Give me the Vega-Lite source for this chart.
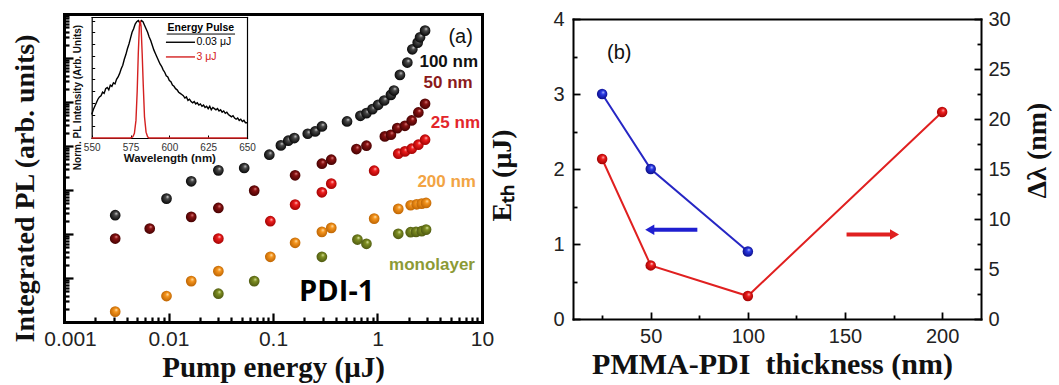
{
  "$schema": "https://vega.github.io/schema/vega-lite/v6.json",
  "width": 1059,
  "height": 385,
  "autosize": {"type": "none"},
  "padding": 0,
  "background": "white",
  "config": {
    "view": {"stroke": null},
    "axis": {"grid": false, "domainColor": "#000000", "tickColor": "#000000", "labelColor": "#222222", "labelFont": "Liberation Sans", "titleFont": "Liberation Serif", "titleFontWeight": "bold", "titleColor": "#111111", "domainCap": "square", "labelOverlap": false, "labelFlush": false, "labelBound": false}
  },
  "datasets": {
    "pl": [
      {"s": "100 nm", "e": 0.00309, "pl": 267}, {"s": "100 nm", "e": 0.00957, "pl": 638}, {"s": "100 nm", "e": 0.0165, "pl": 1576}, {"s": "100 nm", "e": 0.03, "pl": 2798}, {"s": "100 nm", "e": 0.053, "pl": 3161}, {"s": "100 nm", "e": 0.0922, "pl": 6341}, {"s": "100 nm", "e": 0.119, "pl": 10323}, {"s": "100 nm", "e": 0.14, "pl": 13174}, {"s": "100 nm", "e": 0.16, "pl": 15144}, {"s": "100 nm", "e": 0.215, "pl": 18980}, {"s": "100 nm", "e": 0.253, "pl": 21448}, {"s": "100 nm", "e": 0.294, "pl": 27848}, {"s": "100 nm", "e": 0.511, "pl": 36152}, {"s": "100 nm", "e": 0.686, "pl": 48600}, {"s": "100 nm", "e": 0.784, "pl": 55856}, {"s": "100 nm", "e": 0.895, "pl": 68834}, {"s": "100 nm", "e": 1.015, "pl": 86298}, {"s": "100 nm", "e": 1.159, "pl": 108217}, {"s": "100 nm", "e": 1.344, "pl": 145480}, {"s": "100 nm", "e": 1.436, "pl": 182410}, {"s": "100 nm", "e": 1.639, "pl": 413380}, {"s": "100 nm", "e": 1.929, "pl": 787040}, {"s": "100 nm", "e": 2.154, "pl": 1578700}, {"s": "100 nm", "e": 2.424, "pl": 2236700}, {"s": "100 nm", "e": 2.554, "pl": 2954600}, {"s": "100 nm", "e": 2.852, "pl": 4183000},
      {"s": "50 nm", "e": 0.00309, "pl": 78.9}, {"s": "50 nm", "e": 0.00661, "pl": 133}, {"s": "50 nm", "e": 0.0165, "pl": 245}, {"s": "50 nm", "e": 0.03, "pl": 391}, {"s": "50 nm", "e": 0.0661, "pl": 968}, {"s": "50 nm", "e": 0.1627, "pl": 2156}, {"s": "50 nm", "e": 0.2936, "pl": 3964}, {"s": "50 nm", "e": 0.3611, "pl": 4884}, {"s": "50 nm", "e": 0.6284, "pl": 8525}, {"s": "50 nm", "e": 0.7838, "pl": 10145}, {"s": "50 nm", "e": 1.176, "pl": 16515}, {"s": "50 nm", "e": 1.344, "pl": 18015}, {"s": "50 nm", "e": 1.546, "pl": 25520}, {"s": "50 nm", "e": 1.831, "pl": 28830}, {"s": "50 nm", "e": 2.123, "pl": 38090}, {"s": "50 nm", "e": 2.46, "pl": 57840}, {"s": "50 nm", "e": 2.852, "pl": 90920},
      {"s": "25 nm", "e": 0.03, "pl": 78.9}, {"s": "25 nm", "e": 0.0943, "pl": 195}, {"s": "25 nm", "e": 0.1627, "pl": 466}, {"s": "25 nm", "e": 0.2936, "pl": 887}, {"s": "25 nm", "e": 0.3611, "pl": 1395}, {"s": "25 nm", "e": 0.9288, "pl": 2750}, {"s": "25 nm", "e": 1.58, "pl": 6682}, {"s": "25 nm", "e": 1.831, "pl": 7548}, {"s": "25 nm", "e": 2.123, "pl": 8676}, {"s": "25 nm", "e": 2.46, "pl": 10690}, {"s": "25 nm", "e": 2.852, "pl": 13880},
      {"s": "200 nm", "e": 0.00309, "pl": 1.72}, {"s": "200 nm", "e": 0.00957, "pl": 3.89}, {"s": "200 nm", "e": 0.0165, "pl": 8.51}, {"s": "200 nm", "e": 0.03, "pl": 14.3}, {"s": "200 nm", "e": 0.0943, "pl": 30.3}, {"s": "200 nm", "e": 0.1627, "pl": 63}, {"s": "200 nm", "e": 0.2936, "pl": 112}, {"s": "200 nm", "e": 0.3611, "pl": 138}, {"s": "200 nm", "e": 0.9288, "pl": 224}, {"s": "200 nm", "e": 1.58, "pl": 372}, {"s": "200 nm", "e": 2.076, "pl": 450}, {"s": "200 nm", "e": 2.371, "pl": 474}, {"s": "200 nm", "e": 2.65, "pl": 491}, {"s": "200 nm", "e": 2.916, "pl": 508},
      {"s": "monolayer", "e": 0.03, "pl": 4.39}, {"s": "monolayer", "e": 0.0661, "pl": 8.51}, {"s": "monolayer", "e": 0.2936, "pl": 30.3}, {"s": "monolayer", "e": 0.6424, "pl": 74.9}, {"s": "monolayer", "e": 0.7838, "pl": 59.8}, {"s": "monolayer", "e": 1.58, "pl": 101}, {"s": "monolayer", "e": 2.076, "pl": 110}, {"s": "monolayer", "e": 2.337, "pl": 112}, {"s": "monolayer", "e": 2.65, "pl": 116}, {"s": "monolayer", "e": 2.916, "pl": 126}
    ],
    "labels": [
      {"s": "100 nm", "e": 9.16, "pl": 824000},
      {"s": "50 nm", "e": 8.15, "pl": 266000},
      {"s": "25 nm", "e": 9.57, "pl": 33900},
      {"s": "200 nm", "e": 8.76, "pl": 1545},
      {"s": "monolayer", "e": 8.57, "pl": 19.7}
    ],
    "spec": [
      {"p": "0.03 μJ", "w": 550, "i": 0.20}, {"p": "0.03 μJ", "w": 551, "i": 0.24}, {"p": "0.03 μJ", "w": 552, "i": 0.27}, {"p": "0.03 μJ", "w": 553, "i": 0.30}, {"p": "0.03 μJ", "w": 554, "i": 0.33}, {"p": "0.03 μJ", "w": 555, "i": 0.35}, {"p": "0.03 μJ", "w": 556, "i": 0.36}, {"p": "0.03 μJ", "w": 557, "i": 0.39}, {"p": "0.03 μJ", "w": 558, "i": 0.38}, {"p": "0.03 μJ", "w": 559, "i": 0.42}, {"p": "0.03 μJ", "w": 560, "i": 0.43}, {"p": "0.03 μJ", "w": 561, "i": 0.41}, {"p": "0.03 μJ", "w": 562, "i": 0.45}, {"p": "0.03 μJ", "w": 563, "i": 0.44}, {"p": "0.03 μJ", "w": 564, "i": 0.47}, {"p": "0.03 μJ", "w": 565, "i": 0.46}, {"p": "0.03 μJ", "w": 566, "i": 0.50}, {"p": "0.03 μJ", "w": 567, "i": 0.52}, {"p": "0.03 μJ", "w": 568, "i": 0.55}, {"p": "0.03 μJ", "w": 569, "i": 0.59}, {"p": "0.03 μJ", "w": 570, "i": 0.62}, {"p": "0.03 μJ", "w": 571, "i": 0.67}, {"p": "0.03 μJ", "w": 572, "i": 0.71}, {"p": "0.03 μJ", "w": 573, "i": 0.76}, {"p": "0.03 μJ", "w": 574, "i": 0.80}, {"p": "0.03 μJ", "w": 575, "i": 0.85}, {"p": "0.03 μJ", "w": 576, "i": 0.90}, {"p": "0.03 μJ", "w": 577, "i": 0.93}, {"p": "0.03 μJ", "w": 578, "i": 0.97}, {"p": "0.03 μJ", "w": 579, "i": 0.99}, {"p": "0.03 μJ", "w": 580, "i": 1.00}, {"p": "0.03 μJ", "w": 581, "i": 0.98}, {"p": "0.03 μJ", "w": 582, "i": 1.00}, {"p": "0.03 μJ", "w": 583, "i": 0.99}, {"p": "0.03 μJ", "w": 584, "i": 0.96}, {"p": "0.03 μJ", "w": 585, "i": 0.93}, {"p": "0.03 μJ", "w": 586, "i": 0.90}, {"p": "0.03 μJ", "w": 587, "i": 0.86}, {"p": "0.03 μJ", "w": 588, "i": 0.83}, {"p": "0.03 μJ", "w": 589, "i": 0.79}, {"p": "0.03 μJ", "w": 590, "i": 0.75}, {"p": "0.03 μJ", "w": 591, "i": 0.72}, {"p": "0.03 μJ", "w": 592, "i": 0.69}, {"p": "0.03 μJ", "w": 593, "i": 0.66}, {"p": "0.03 μJ", "w": 594, "i": 0.63}, {"p": "0.03 μJ", "w": 595, "i": 0.61}, {"p": "0.03 μJ", "w": 596, "i": 0.58}, {"p": "0.03 μJ", "w": 597, "i": 0.56}, {"p": "0.03 μJ", "w": 598, "i": 0.53}, {"p": "0.03 μJ", "w": 599, "i": 0.52}, {"p": "0.03 μJ", "w": 600, "i": 0.49}, {"p": "0.03 μJ", "w": 601, "i": 0.48}, {"p": "0.03 μJ", "w": 602, "i": 0.45}, {"p": "0.03 μJ", "w": 603, "i": 0.44}, {"p": "0.03 μJ", "w": 604, "i": 0.42}, {"p": "0.03 μJ", "w": 605, "i": 0.41}, {"p": "0.03 μJ", "w": 606, "i": 0.39}, {"p": "0.03 μJ", "w": 607, "i": 0.38}, {"p": "0.03 μJ", "w": 608, "i": 0.37}, {"p": "0.03 μJ", "w": 609, "i": 0.36}, {"p": "0.03 μJ", "w": 610, "i": 0.34}, {"p": "0.03 μJ", "w": 611, "i": 0.35}, {"p": "0.03 μJ", "w": 612, "i": 0.32}, {"p": "0.03 μJ", "w": 613, "i": 0.33}, {"p": "0.03 μJ", "w": 614, "i": 0.31}, {"p": "0.03 μJ", "w": 615, "i": 0.30}, {"p": "0.03 μJ", "w": 616, "i": 0.31}, {"p": "0.03 μJ", "w": 617, "i": 0.29}, {"p": "0.03 μJ", "w": 618, "i": 0.30}, {"p": "0.03 μJ", "w": 619, "i": 0.28}, {"p": "0.03 μJ", "w": 620, "i": 0.29}, {"p": "0.03 μJ", "w": 621, "i": 0.27}, {"p": "0.03 μJ", "w": 622, "i": 0.28}, {"p": "0.03 μJ", "w": 623, "i": 0.26}, {"p": "0.03 μJ", "w": 624, "i": 0.27}, {"p": "0.03 μJ", "w": 625, "i": 0.25}, {"p": "0.03 μJ", "w": 626, "i": 0.27}, {"p": "0.03 μJ", "w": 627, "i": 0.24}, {"p": "0.03 μJ", "w": 628, "i": 0.26}, {"p": "0.03 μJ", "w": 629, "i": 0.25}, {"p": "0.03 μJ", "w": 630, "i": 0.24}, {"p": "0.03 μJ", "w": 631, "i": 0.25}, {"p": "0.03 μJ", "w": 632, "i": 0.23}, {"p": "0.03 μJ", "w": 633, "i": 0.24}, {"p": "0.03 μJ", "w": 634, "i": 0.22}, {"p": "0.03 μJ", "w": 635, "i": 0.23}, {"p": "0.03 μJ", "w": 636, "i": 0.21}, {"p": "0.03 μJ", "w": 637, "i": 0.22}, {"p": "0.03 μJ", "w": 638, "i": 0.20}, {"p": "0.03 μJ", "w": 639, "i": 0.19}, {"p": "0.03 μJ", "w": 640, "i": 0.18}, {"p": "0.03 μJ", "w": 641, "i": 0.19}, {"p": "0.03 μJ", "w": 642, "i": 0.17}, {"p": "0.03 μJ", "w": 643, "i": 0.16}, {"p": "0.03 μJ", "w": 644, "i": 0.17}, {"p": "0.03 μJ", "w": 645, "i": 0.15}, {"p": "0.03 μJ", "w": 646, "i": 0.16}, {"p": "0.03 μJ", "w": 647, "i": 0.14}, {"p": "0.03 μJ", "w": 648, "i": 0.15}, {"p": "0.03 μJ", "w": 649, "i": 0.13}, {"p": "0.03 μJ", "w": 650, "i": 0.13},
      {"p": "3 μJ", "w": 550, "i": 0.0}, {"p": "3 μJ", "w": 575, "i": 0.0}, {"p": "3 μJ", "w": 576.5, "i": 0.01}, {"p": "3 μJ", "w": 577.5, "i": 0.04}, {"p": "3 μJ", "w": 578.5, "i": 0.15}, {"p": "3 μJ", "w": 579.3, "i": 0.4}, {"p": "3 μJ", "w": 580, "i": 0.72}, {"p": "3 μJ", "w": 580.7, "i": 0.95}, {"p": "3 μJ", "w": 581.2, "i": 1.0}, {"p": "3 μJ", "w": 581.8, "i": 0.95}, {"p": "3 μJ", "w": 582.5, "i": 0.72}, {"p": "3 μJ", "w": 583.2, "i": 0.45}, {"p": "3 μJ", "w": 584, "i": 0.18}, {"p": "3 μJ", "w": 585, "i": 0.05}, {"p": "3 μJ", "w": 586, "i": 0.01}, {"p": "3 μJ", "w": 587, "i": 0.0}, {"p": "3 μJ", "w": 650, "i": 0.0}
    ],
    "legend": [
      {"p": "0.03 μJ", "w": 597.8, "w2": 616.5, "i": 0.815, "wt": 617.5},
      {"p": "3 μJ", "w": 597.8, "w2": 616.5, "i": 0.69, "wt": 617.5}
    ],
    "thk": [
      {"m": "Eth", "t": 25, "v": 3.0}, {"m": "Eth", "t": 50, "v": 2.0}, {"m": "Eth", "t": 100, "v": 0.9},
      {"m": "dl", "t": 25, "v": 16.0}, {"m": "dl", "t": 50, "v": 5.36}, {"m": "dl", "t": 100, "v": 2.3}, {"m": "dl", "t": 200, "v": 20.7}
    ]
  },
  "resolve": {
    "scale": {"x": "independent", "y": "independent", "color": "independent"},
    "axis": {"x": "independent", "y": "independent"}
  },
  "layer": [
    {
      "data": {"name": "pl"},
      "transform": [{"filter": "datum.s == '100 nm'"}],
      "mark": {"type": "point", "filled": true, "size": 115, "opacity": 1, "fill": {"gradient": "radial", "x1": 0.62, "y1": 0.32, "r1": 0, "x2": 0.5, "y2": 0.5, "r2": 0.55, "stops": [{"offset": 0, "color": "#dddddd"}, {"offset": 0.3, "color": "#4a4a4a"}, {"offset": 1, "color": "#000000"}]}},
      "encoding": {
        "x": {"field": "e", "type": "quantitative", "scale": {"type": "log", "domain": [0.001, 10], "range": [64, 482], "nice": false},
          "axis": {"orient": "bottom", "offset": -63, "values": [0.001, 0.002, 0.003, 0.004, 0.005, 0.006, 0.007, 0.008, 0.009, 0.01, 0.02, 0.03, 0.04, 0.05, 0.06, 0.07, 0.08, 0.09, 0.1, 0.2, 0.3, 0.4, 0.5, 0.6, 0.7, 0.8, 0.9, 1, 2, 3, 4, 5, 6, 7, 8, 9, 10],
            "labelExpr": "indexof([0.001, 0.01, 0.1, 1, 10], datum.value) >= 0 ? format(datum.value, '~g') : ''",
            "tickSize": {"condition": {"test": "indexof([0.001, 0.01, 0.1, 1, 10], datum.value) >= 0", "value": -9}, "value": -5},
            "labelOffset": {"condition": {"test": "datum.value == 0.001", "value": 6}, "value": 0},
            "tickWidth": 2.2, "domainWidth": 3, "labelFontSize": 21, "labelPadding": 15,
            "title": "Pump energy (μJ)", "titleFontSize": 29, "titlePadding": 0}},
        "y": {"field": "pl", "type": "quantitative", "scale": {"type": "log", "domain": [1, 10000000], "range": [322, 14], "nice": false},
          "axis": {"orient": "left", "offset": -64, "values": [1, 2, 3, 4, 5, 6, 7, 8, 9, 10, 20, 30, 40, 50, 60, 70, 80, 90, 100, 200, 300, 400, 500, 600, 700, 800, 900, 1000, 2000, 3000, 4000, 5000, 6000, 7000, 8000, 9000, 10000, 20000, 30000, 40000, 50000, 60000, 70000, 80000, 90000, 100000, 200000, 300000, 400000, 500000, 600000, 700000, 800000, 900000, 1000000, 2000000, 3000000, 4000000, 5000000, 6000000, 7000000, 8000000, 9000000, 10000000],
            "labels": false,
            "tickSize": {"condition": {"test": "indexof([1, 10, 100, 1000, 10000, 100000, 1000000, 10000000], datum.value) >= 0", "value": -9}, "value": -5},
            "tickWidth": 2.2, "domainWidth": 3,
            "title": "Integrated PL (arb. units)", "titleFontSize": 28, "titlePadding": 23, "titleY": 188}}
      }
    },
    {
      "data": {"name": "pl"},
      "transform": [{"filter": "datum.s == '50 nm'"}],
      "mark": {"type": "point", "filled": true, "size": 115, "opacity": 1, "fill": {"gradient": "radial", "x1": 0.62, "y1": 0.32, "r1": 0, "x2": 0.5, "y2": 0.5, "r2": 0.55, "stops": [{"offset": 0, "color": "#e89090"}, {"offset": 0.3, "color": "#8a1212"}, {"offset": 1, "color": "#3d0000"}]}},
      "encoding": {
        "x": {"field": "e", "type": "quantitative", "scale": {"type": "log", "domain": [0.001, 10], "range": [64, 482], "nice": false},
          "axis": {"orient": "top", "offset": -14, "ticks": false, "labels": false, "domainWidth": 3, "title": null}},
        "y": {"field": "pl", "type": "quantitative", "scale": {"type": "log", "domain": [1, 10000000], "range": [322, 14], "nice": false},
          "axis": {"orient": "right", "offset": -577, "ticks": false, "labels": false, "domainWidth": 3, "title": null}}
      }
    },
    {
      "data": {"name": "pl"},
      "transform": [{"filter": "datum.s == '25 nm'"}],
      "mark": {"type": "point", "filled": true, "size": 115, "opacity": 1, "fill": {"gradient": "radial", "x1": 0.62, "y1": 0.32, "r1": 0, "x2": 0.5, "y2": 0.5, "r2": 0.55, "stops": [{"offset": 0, "color": "#ffd6d6"}, {"offset": 0.3, "color": "#f01e1e"}, {"offset": 1, "color": "#9a0000"}]}},
      "encoding": {
        "x": {"field": "e", "type": "quantitative", "scale": {"type": "log", "domain": [0.001, 10], "range": [64, 482], "nice": false}, "axis": null},
        "y": {"field": "pl", "type": "quantitative", "scale": {"type": "log", "domain": [1, 10000000], "range": [322, 14], "nice": false}, "axis": null}
      }
    },
    {
      "data": {"name": "pl"},
      "transform": [{"filter": "datum.s == '200 nm'"}],
      "mark": {"type": "point", "filled": true, "size": 115, "opacity": 1, "fill": {"gradient": "radial", "x1": 0.62, "y1": 0.32, "r1": 0, "x2": 0.5, "y2": 0.5, "r2": 0.55, "stops": [{"offset": 0, "color": "#fff0c8"}, {"offset": 0.3, "color": "#f7961e"}, {"offset": 1, "color": "#b86000"}]}},
      "encoding": {
        "x": {"field": "e", "type": "quantitative", "scale": {"type": "log", "domain": [0.001, 10], "range": [64, 482], "nice": false}, "axis": null},
        "y": {"field": "pl", "type": "quantitative", "scale": {"type": "log", "domain": [1, 10000000], "range": [322, 14], "nice": false}, "axis": null}
      }
    },
    {
      "data": {"name": "pl"},
      "transform": [{"filter": "datum.s == 'monolayer'"}],
      "mark": {"type": "point", "filled": true, "size": 115, "opacity": 1, "fill": {"gradient": "radial", "x1": 0.62, "y1": 0.32, "r1": 0, "x2": 0.5, "y2": 0.5, "r2": 0.55, "stops": [{"offset": 0, "color": "#e8f0b0"}, {"offset": 0.3, "color": "#7f8f22"}, {"offset": 1, "color": "#4a5510"}]}},
      "encoding": {
        "x": {"field": "e", "type": "quantitative", "scale": {"type": "log", "domain": [0.001, 10], "range": [64, 482], "nice": false}, "axis": null},
        "y": {"field": "pl", "type": "quantitative", "scale": {"type": "log", "domain": [1, 10000000], "range": [322, 14], "nice": false}, "axis": null}
      }
    },
    {
      "data": {"name": "labels"},
      "mark": {"type": "text", "font": "Liberation Sans", "fontWeight": "bold", "fontSize": 17, "align": "right", "baseline": "middle"},
      "encoding": {
        "x": {"field": "e", "type": "quantitative", "scale": {"type": "log", "domain": [0.001, 10], "range": [64, 482], "nice": false}, "axis": null},
        "y": {"field": "pl", "type": "quantitative", "scale": {"type": "log", "domain": [1, 10000000], "range": [322, 14], "nice": false}, "axis": null},
        "text": {"field": "s"},
        "color": {"field": "s", "type": "nominal", "scale": {"domain": ["100 nm", "50 nm", "25 nm", "200 nm", "monolayer"], "range": ["#111111", "#8b1a1a", "#e3262b", "#f2a444", "#8c9a35"]}, "legend": null}
      }
    },
    {
      "data": {"values": [{"e": 6.25, "pl": 2950000, "t": "(a)"}]},
      "mark": {"type": "text", "font": "Liberation Sans", "fontSize": 20, "color": "#111111"},
      "encoding": {
        "x": {"field": "e", "type": "quantitative", "scale": {"type": "log", "domain": [0.001, 10], "range": [64, 482], "nice": false}, "axis": null},
        "y": {"field": "pl", "type": "quantitative", "scale": {"type": "log", "domain": [1, 10000000], "range": [322, 14], "nice": false}, "axis": null},
        "text": {"field": "t"}
      }
    },
    {
      "data": {"values": [{"e": 0.407, "pl": 4.88, "t": "PDI-1"}]},
      "mark": {"type": "text", "font": "Open Sans", "fontWeight": "bold", "fontSize": 29, "color": "#000000"},
      "encoding": {
        "x": {"field": "e", "type": "quantitative", "scale": {"type": "log", "domain": [0.001, 10], "range": [64, 482], "nice": false}, "axis": null},
        "y": {"field": "pl", "type": "quantitative", "scale": {"type": "log", "domain": [1, 10000000], "range": [322, 14], "nice": false}, "axis": null},
        "text": {"field": "t"}
      }
    },
    {
      "data": {"name": "spec"},
      "transform": [{"filter": "datum.p == '0.03 μJ'"}],
      "mark": {"type": "line", "color": "#000000", "strokeWidth": 1.4},
      "encoding": {
        "x": {"field": "w", "type": "quantitative", "scale": {"domain": [550, 650], "range": [91.7, 247], "nice": false, "zero": false},
          "axis": {"orient": "bottom", "offset": -247, "values": [550, 575, 600, 625, 650], "tickSize": -3, "tickWidth": 1, "domainWidth": 1.2, "labelFontSize": 10, "labelPadding": 7.5, "labelColor": "#333333",
            "title": "Wavelength (nm)", "titleFont": "Liberation Sans", "titleFontSize": 11.5, "titlePadding": 0}},
        "y": {"field": "i", "type": "quantitative", "scale": {"domain": [0, 1.03], "range": [138, 17], "nice": false, "zero": false},
          "axis": {"orient": "left", "offset": -91.7, "values": [0, 0.1, 0.2, 0.3, 0.4, 0.5, 0.6, 0.7, 0.8, 0.9, 1.0], "labels": false, "tickSize": -3, "tickWidth": 1, "domainWidth": 1.2,
            "title": "Norm. PL Intensity (Arb. Units)", "titleFont": "Liberation Sans", "titleFontSize": 10, "titlePadding": 9, "titleY": 97}}
      }
    },
    {
      "data": {"name": "spec"},
      "transform": [{"filter": "datum.p == '3 μJ'"}],
      "mark": {"type": "line", "color": "#d42020", "strokeWidth": 1.4},
      "encoding": {
        "x": {"field": "w", "type": "quantitative", "scale": {"domain": [550, 650], "range": [91.7, 247], "nice": false, "zero": false},
          "axis": {"orient": "top", "offset": -17, "ticks": false, "labels": false, "domainWidth": 1.2, "title": null}},
        "y": {"field": "i", "type": "quantitative", "scale": {"domain": [0, 1.03], "range": [138, 17], "nice": false, "zero": false},
          "axis": {"orient": "right", "offset": -812, "ticks": false, "labels": false, "domainWidth": 1.2, "title": null}}
      }
    },
    {
      "data": {"name": "legend"},
      "mark": {"type": "rule", "strokeWidth": 1.4},
      "encoding": {
        "x": {"field": "w", "type": "quantitative", "scale": {"domain": [550, 650], "range": [91.7, 247], "nice": false, "zero": false}, "axis": null},
        "x2": {"field": "w2"},
        "y": {"field": "i", "type": "quantitative", "scale": {"domain": [0, 1.03], "range": [138, 17], "nice": false, "zero": false}, "axis": null},
        "color": {"field": "p", "type": "nominal", "scale": {"domain": ["0.03 μJ", "3 μJ"], "range": ["#000000", "#d42020"]}, "legend": null}
      }
    },
    {
      "data": {"name": "legend"},
      "mark": {"type": "text", "font": "Liberation Sans", "fontSize": 10.5, "align": "left", "baseline": "middle"},
      "encoding": {
        "x": {"field": "wt", "type": "quantitative", "scale": {"domain": [550, 650], "range": [91.7, 247], "nice": false, "zero": false}, "axis": null},
        "y": {"field": "i", "type": "quantitative", "scale": {"domain": [0, 1.03], "range": [138, 17], "nice": false, "zero": false}, "axis": null},
        "text": {"field": "p"},
        "color": {"field": "p", "type": "nominal", "scale": {"domain": ["0.03 μJ", "3 μJ"], "range": ["#000000", "#d42020"]}, "legend": null}
      }
    },
    {
      "data": {"values": [{"w": 620.3, "i": 0.934, "t": "Energy Pulse"}]},
      "mark": {"type": "text", "font": "Liberation Sans", "fontWeight": "bold", "fontSize": 10.5, "color": "#000000"},
      "encoding": {
        "x": {"field": "w", "type": "quantitative", "scale": {"domain": [550, 650], "range": [91.7, 247], "nice": false, "zero": false}, "axis": null},
        "y": {"field": "i", "type": "quantitative", "scale": {"domain": [0, 1.03], "range": [138, 17], "nice": false, "zero": false}, "axis": null},
        "text": {"field": "t"}
      }
    },
    {
      "data": {"values": [{"w": 598.3, "w2": 642.3, "i": 0.885}]},
      "mark": {"type": "rule", "color": "#000000", "strokeWidth": 1},
      "encoding": {
        "x": {"field": "w", "type": "quantitative", "scale": {"domain": [550, 650], "range": [91.7, 247], "nice": false, "zero": false}, "axis": null},
        "x2": {"field": "w2"},
        "y": {"field": "i", "type": "quantitative", "scale": {"domain": [0, 1.03], "range": [138, 17], "nice": false, "zero": false}, "axis": null}
      }
    },
    {
      "data": {"name": "thk"},
      "transform": [{"filter": "datum.m == 'Eth'"}],
      "mark": {"type": "line", "color": "#2626c4", "strokeWidth": 2},
      "encoding": {
        "x": {"field": "t", "type": "quantitative", "scale": {"domain": [10, 220], "range": [573, 981], "nice": false, "zero": false},
          "axis": {"orient": "bottom", "offset": -66, "values": [25, 50, 75, 100, 125, 150, 175, 200],
            "labelExpr": "datum.value % 50 == 0 ? datum.label : ''",
            "tickSize": {"condition": {"test": "datum.value % 50 == 0", "value": -7}, "value": -4},
            "tickWidth": 1.8, "domainWidth": 2, "labelFontSize": 20, "labelPadding": 14,
            "title": "PMMA-PDI\u00a0 thickness (nm)", "titleFontSize": 30, "titlePadding": 0, "titleX": 772}},
        "y": {"field": "v", "type": "quantitative", "scale": {"domain": [0, 4], "range": [319, 19], "nice": false, "zero": false},
          "axis": {"orient": "left", "offset": -573, "values": [0, 0.5, 1, 1.5, 2, 2.5, 3, 3.5, 4],
            "labelExpr": "datum.value % 1 == 0 ? format(datum.value, 'd') : ''",
            "tickSize": {"condition": {"test": "datum.value % 1 == 0", "value": -7}, "value": -4},
            "tickWidth": 1.8, "domainWidth": 2, "labelFontSize": 20, "labelPadding": 16,
            "title": "Eₜₕ (μJ)", "titleFontSize": 28, "titlePadding": 36, "titleY": 175}}
      }
    },
    {
      "data": {"name": "thk"},
      "transform": [{"filter": "datum.m == 'Eth'"}],
      "mark": {"type": "point", "filled": true, "size": 110, "opacity": 1, "fill": {"gradient": "radial", "x1": 0.62, "y1": 0.32, "r1": 0, "x2": 0.5, "y2": 0.5, "r2": 0.55, "stops": [{"offset": 0, "color": "#d0d8ff"}, {"offset": 0.3, "color": "#2a3ae8"}, {"offset": 1, "color": "#0a0a80"}]}},
      "encoding": {
        "x": {"field": "t", "type": "quantitative", "scale": {"domain": [10, 220], "range": [573, 981], "nice": false, "zero": false}, "axis": null},
        "y": {"field": "v", "type": "quantitative", "scale": {"domain": [0, 4], "range": [319, 19], "nice": false, "zero": false}, "axis": null}
      }
    },
    {
      "data": {"values": [{"t": 49.5, "t2": 74, "v": 1.19}]},
      "mark": {"type": "rule", "color": "#1f1fd0", "strokeWidth": 4},
      "encoding": {
        "x": {"field": "t", "type": "quantitative", "scale": {"domain": [10, 220], "range": [573, 981], "nice": false, "zero": false}, "axis": null},
        "x2": {"field": "t2"},
        "y": {"field": "v", "type": "quantitative", "scale": {"domain": [0, 4], "range": [319, 19], "nice": false, "zero": false}, "axis": null}
      }
    },
    {
      "data": {"values": [{"t": 49.5, "v": 1.19}]},
      "mark": {"type": "point", "shape": "triangle-left", "filled": true, "size": 110, "opacity": 1, "color": "#1f1fd0"},
      "encoding": {
        "x": {"field": "t", "type": "quantitative", "scale": {"domain": [10, 220], "range": [573, 981], "nice": false, "zero": false}, "axis": null},
        "y": {"field": "v", "type": "quantitative", "scale": {"domain": [0, 4], "range": [319, 19], "nice": false, "zero": false}, "axis": null}
      }
    },
    {
      "data": {"values": [{"t": 33.8, "v": 3.55, "s": "(b)"}]},
      "mark": {"type": "text", "font": "Liberation Sans", "fontSize": 20, "color": "#111111"},
      "encoding": {
        "x": {"field": "t", "type": "quantitative", "scale": {"domain": [10, 220], "range": [573, 981], "nice": false, "zero": false}, "axis": null},
        "y": {"field": "v", "type": "quantitative", "scale": {"domain": [0, 4], "range": [319, 19], "nice": false, "zero": false}, "axis": null},
        "text": {"field": "s"}
      }
    },
    {
      "data": {"name": "thk"},
      "transform": [{"filter": "datum.m == 'dl'"}],
      "mark": {"type": "line", "color": "#e02020", "strokeWidth": 2},
      "encoding": {
        "x": {"field": "t", "type": "quantitative", "scale": {"domain": [10, 220], "range": [573, 981], "nice": false, "zero": false},
          "axis": {"orient": "top", "offset": -19, "ticks": false, "labels": false, "domainWidth": 2, "title": null}},
        "y": {"field": "v", "type": "quantitative", "scale": {"domain": [0, 30], "range": [319, 19], "nice": false, "zero": false},
          "axis": {"orient": "right", "offset": -78, "values": [0, 2.5, 5, 7.5, 10, 12.5, 15, 17.5, 20, 22.5, 25, 27.5, 30],
            "labelExpr": "datum.value % 5 == 0 ? datum.label : ''",
            "tickSize": {"condition": {"test": "datum.value % 5 == 0", "value": -7}, "value": -4},
            "tickWidth": 1.8, "domainWidth": 2, "labelFontSize": 20, "labelPadding": 14,
            "title": "Δλ (nm)", "titleFontSize": 28, "titleAngle": -90, "titleBaseline": "top", "titlePadding": 13, "titleY": 150}}
      }
    },
    {
      "data": {"name": "thk"},
      "transform": [{"filter": "datum.m == 'dl'"}],
      "mark": {"type": "point", "filled": true, "size": 110, "opacity": 1, "fill": {"gradient": "radial", "x1": 0.62, "y1": 0.32, "r1": 0, "x2": 0.5, "y2": 0.5, "r2": 0.55, "stops": [{"offset": 0, "color": "#ffd6d6"}, {"offset": 0.3, "color": "#f01e1e"}, {"offset": 1, "color": "#9a0000"}]}},
      "encoding": {
        "x": {"field": "t", "type": "quantitative", "scale": {"domain": [10, 220], "range": [573, 981], "nice": false, "zero": false}, "axis": null},
        "y": {"field": "v", "type": "quantitative", "scale": {"domain": [0, 30], "range": [319, 19], "nice": false, "zero": false}, "axis": null}
      }
    },
    {
      "data": {"values": [{"t": 150.8, "t2": 175.5, "v": 8.44}]},
      "mark": {"type": "rule", "color": "#e02020", "strokeWidth": 4},
      "encoding": {
        "x": {"field": "t", "type": "quantitative", "scale": {"domain": [10, 220], "range": [573, 981], "nice": false, "zero": false}, "axis": null},
        "x2": {"field": "t2"},
        "y": {"field": "v", "type": "quantitative", "scale": {"domain": [0, 30], "range": [319, 19], "nice": false, "zero": false}, "axis": null}
      }
    },
    {
      "data": {"values": [{"t": 175.5, "v": 8.44}]},
      "mark": {"type": "point", "shape": "triangle-right", "filled": true, "size": 110, "opacity": 1, "color": "#e02020"},
      "encoding": {
        "x": {"field": "t", "type": "quantitative", "scale": {"domain": [10, 220], "range": [573, 981], "nice": false, "zero": false}, "axis": null},
        "y": {"field": "v", "type": "quantitative", "scale": {"domain": [0, 30], "range": [319, 19], "nice": false, "zero": false}, "axis": null}
      }
    }
  ]
}
